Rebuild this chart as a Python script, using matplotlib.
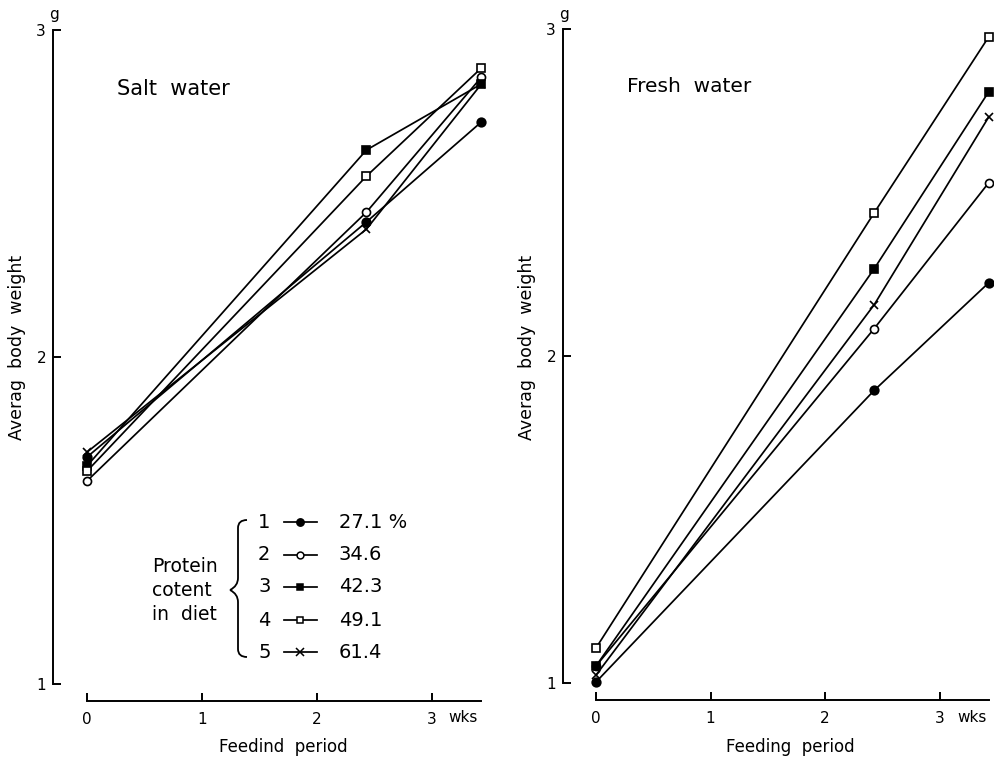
import matplotlib
matplotlib.use("Agg")
import matplotlib.pyplot as plt
from matplotlib.lines import Line2D
from matplotlib.path import Path
from matplotlib.patches import PathPatch

plt.rcParams['font.family'] = ['DejaVu Sans']

# Feeding period in weeks (day 0, day 17, day 24)
weeks = [0, 2.43, 3.43]

# Protein content of the five diets (%)
protein_labels = ["27.1 %", "34.6", "42.3", "49.1", "61.4"]
diet_numbers = ["1", "2", "3", "4", "5"]

# Average body weight (g), salt water
salt_diet1 = [1.694, 2.413, 2.719]
salt_diet2 = [1.621, 2.443, 2.856]
salt_diet3 = [1.667, 2.633, 2.835]
salt_diet4 = [1.651, 2.553, 2.884]
salt_diet5 = [1.709, 2.391, 2.835]

# Average body weight (g), fresh water
fresh_diet1 = [1.003, 1.895, 2.224]
fresh_diet2 = [1.052, 2.084, 2.530]
fresh_diet3 = [1.052, 2.267, 2.808]
fresh_diet4 = [1.107, 2.438, 2.976]
fresh_diet5 = [1.024, 2.157, 2.731]

salt_series = [salt_diet1, salt_diet2, salt_diet3, salt_diet4, salt_diet5]
fresh_series = [fresh_diet1, fresh_diet2, fresh_diet3, fresh_diet4, fresh_diet5]

W, H = 994, 762
fig = plt.figure(figsize=(W / 100, H / 100), dpi=100)


def fx(x):
    return x / W


def fy(y):
    return 1 - y / H


# marker style per diet: (marker, facecolor, size)
styles = [("o", "black", 6.2), ("o", "white", 5.8), ("s", "black", 5.3),
          ("s", "white", 5.3), ("x", "black", 6.0)]
LW = 1.25


def make_panel(x0px, x_per_wk, y1px, y_per_g, spine_px, right_px, series,
               title, title_xy, title_fs, xlabel, xlabel_xy, ylabel_x, wks_x):
    xmin = (spine_px - x0px) / x_per_wk
    xmax = (right_px - x0px) / x_per_wk
    top_px, bottom_px = 18, y1px + 17
    ymin = 1 - (bottom_px - y1px) / y_per_g
    ymax = 1 + (y1px - top_px) / y_per_g
    ax = fig.add_axes([fx(spine_px), fy(bottom_px),
                       (right_px - spine_px) / W, (bottom_px - top_px) / H])
    ax.set_xlim(xmin, xmax)
    ax.set_ylim(ymin, ymax)
    ax.patch.set_alpha(0)

    for vals, (m, fc, ms) in zip(series, styles):
        ax.plot(weeks, vals, color="black", lw=LW, marker=m, ms=ms,
                markerfacecolor=fc, markeredgecolor="black", mew=1.2,
                clip_on=False, zorder=3)

    for s in ("top", "right"):
        ax.spines[s].set_visible(False)
    ax.spines["left"].set_bounds(1, 3)
    ax.spines["bottom"].set_bounds(0, 3.43)
    for s in ("left", "bottom"):
        ax.spines[s].set_linewidth(1.4)
    ax.set_yticks([1, 2, 3])
    ax.set_yticklabels(["1", "2", "3"])
    ax.set_xticks([0, 1, 2, 3])
    ax.set_xticklabels(["0", "1", "2", "3"])
    ax.tick_params(direction="in", length=6, width=1.4, labelsize=11)
    ax.tick_params(axis="y", pad=5)
    ax.tick_params(axis="x", pad=8)

    fig.text(fx(spine_px + 1), fy(15), "g", fontsize=11, ha="center", va="center")
    fig.text(fx(wks_x), fy(717), "wks", fontsize=11, ha="left", va="center")
    fig.text(fx(title_xy[0]), fy(title_xy[1]), title, fontsize=title_fs,
             ha="left", va="center")
    fig.text(fx(xlabel_xy[0]), fy(xlabel_xy[1]), xlabel, fontsize=12,
             ha="center", va="center")
    fig.text(fx(ylabel_x), fy(347), "Averag  body  weight", fontsize=12.5,
             rotation=90, ha="center", va="center")
    return ax


make_panel(87, 115, 684, 327, 53, 495, salt_series,
           "Salt  water", (117, 89), 15, "Feedind  period", (283, 747), 17, 448)
make_panel(596, 114.5, 683, 327, 563, 994, fresh_series,
           "Fresh  water", (627, 87), 14.5, "Feeding  period", (790, 747), 527, 957)

# Legend for the five diets, drawn in figure pixels
rows_y = [522, 555, 587, 620, 652]
for ypx, num, lab, (m, fc, ms) in zip(rows_y, diet_numbers, protein_labels, styles):
    fig.text(fx(258), fy(ypx), num, fontsize=14, ha="left", va="center")
    fig.add_artist(Line2D([fx(284), fx(317)], [fy(ypx), fy(ypx)],
                          transform=fig.transFigure, color="black", lw=LW))
    fig.add_artist(Line2D([fx(300)], [fy(ypx)], transform=fig.transFigure,
                          marker=m, ms=ms * 0.85, markerfacecolor=fc,
                          markeredgecolor="black", mew=1.1, color="black"))
    fig.text(fx(339), fy(ypx), lab, fontsize=14, ha="left", va="center")

for ypx, word in zip([566, 590, 614], ["Protein", "cotent", "in  diet"]):
    fig.text(fx(152), fy(ypx), word, fontsize=13.5, ha="left", va="center")

# curly brace grouping the legend rows
bx, btop, bmid, bbot = 238, 520, 590, 657
pts = [(bx + 9, btop), (bx, btop), (bx, btop + 8), (bx, btop + 10),
       (bx, bmid - 12), (bx, bmid - 4), (bx - 8, bmid), (bx - 8, bmid),
       (bx, bmid + 4), (bx, bmid + 12),
       (bx, bbot - 10), (bx, bbot - 8), (bx, bbot), (bx + 9, bbot)]
codes = [Path.MOVETO, Path.CURVE3, Path.CURVE3, Path.LINETO,
         Path.LINETO, Path.CURVE3, Path.CURVE3, Path.MOVETO,
         Path.CURVE3, Path.CURVE3,
         Path.LINETO, Path.LINETO, Path.CURVE3, Path.CURVE3]
brace = Path([(fx(x), fy(y)) for x, y in pts], codes)
fig.add_artist(PathPatch(brace, transform=fig.transFigure, fill=False,
                         lw=1.3, edgecolor="black"))

fig.savefig("out.png", dpi=100)
